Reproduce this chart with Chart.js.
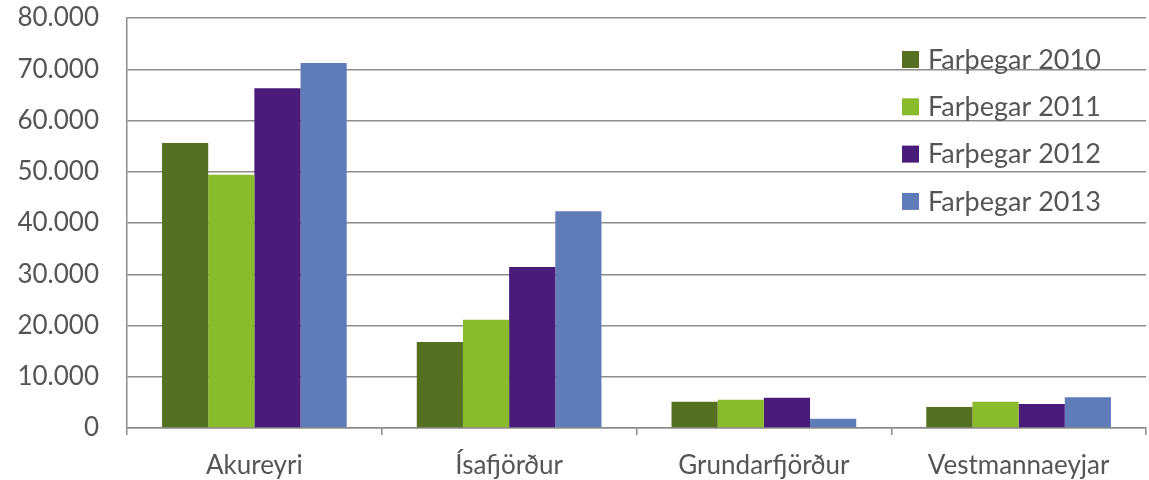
<!DOCTYPE html>
<html>
<head>
<meta charset="utf-8">
<script src="https://cdn.jsdelivr.net/npm/chart.js@4/dist/chart.umd.min.js"></script>
<style>
  html, body { margin: 0; padding: 0; background: #ffffff; }
  #wrap { width: 1149px; height: 480px; position: relative; }
</style>
</head>
<body>
<div id="wrap"><canvas id="c"></canvas></div>
<script>
const categories = ['Akureyri', 'Ísafjörður', 'Grundarfjörður', 'Vestmannaeyjar'];
const seriesLabels = ['Farþegar 2010', 'Farþegar 2011', 'Farþegar 2012', 'Farþegar 2013'];
const values2010 = [55600, 16800, 5100, 4100];
const values2011 = [49400, 21100, 5500, 5100];
const values2012 = [66300, 31400, 5900, 4700];
const values2013 = [71200, 42300, 1800, 6000];
const seriesColors = ['#557022', '#8abb2d', '#4a1c7a', '#5f7cb9'];
const yTicks = [0, 10000, 20000, 30000, 40000, 50000, 60000, 70000, 80000];

const FONT = 'Lato, "Open Sans", sans-serif';
const TEXT = '#555555';
const GRID = '#8c8c8c';

const allValues = [values2010, values2011, values2012, values2013];

const legendPlugin = {
  id: 'insideLegend',
  afterDraw(chart) {
    const ctx = chart.ctx;
    const area = chart.chartArea;
    const x0 = area.right - 244;
    const y0 = area.top + 33;
    const step = 47.3;
    ctx.save();
    ctx.font = '27px ' + FONT;
    ctx.textBaseline = 'middle';
    ctx.textAlign = 'left';
    chart.data.datasets.forEach((ds, i) => {
      const y = y0 + i * step;
      ctx.fillStyle = ds.backgroundColor;
      ctx.fillRect(x0, y, 17, 17);
      ctx.fillStyle = TEXT;
      ctx.fillText(ds.label, x0 + 26, y + 9);
    });
    ctx.restore();
  }
};

new Chart(document.getElementById('c'), {
  type: 'bar',
  data: {
    labels: categories,
    datasets: seriesLabels.map((lab, i) => ({
      label: lab,
      data: allValues[i],
      backgroundColor: seriesColors[i],
      borderWidth: 0,
      categoryPercentage: 0.725,
      barPercentage: 1.0
    }))
  },
  options: {
    responsive: true,
    maintainAspectRatio: false,
    animation: false,
    layout: { padding: { top: 18, right: 3, bottom: 0, left: 0 } },
    plugins: {
      legend: { display: false },
      tooltip: { enabled: false }
    },
    scales: {
      x: {
        afterFit(scale) { scale.height = 52; },
        grid: {
          offset: true,
          drawOnChartArea: false,
          drawTicks: true,
          tickLength: 7,
          color: GRID,
          lineWidth: 1.5
        },
        border: { display: true, color: GRID, width: 1.5 },
        ticks: {
          color: TEXT,
          font: { family: FONT, size: 26 },
          padding: 15,
          maxRotation: 0
        }
      },
      y: {
        min: 0,
        max: 80000,
        afterFit(scale) { scale.width = 127; scale.paddingTop = 0; scale.paddingBottom = 0; },
        afterBuildTicks(scale) { scale.ticks = yTicks.map(v => ({ value: v })); },
        grid: {
          drawTicks: false,
          color: GRID,
          lineWidth: 1.5
        },
        border: { display: true, color: GRID, width: 1.5 },
        ticks: {
          color: TEXT,
          font: { family: FONT, size: 26 },
          padding: 28,
          callback: (v) => v === 0 ? '0' : v.toLocaleString('de-DE')
        }
      }
    }
  },
  plugins: [legendPlugin]
});
</script>
</body>
</html>
